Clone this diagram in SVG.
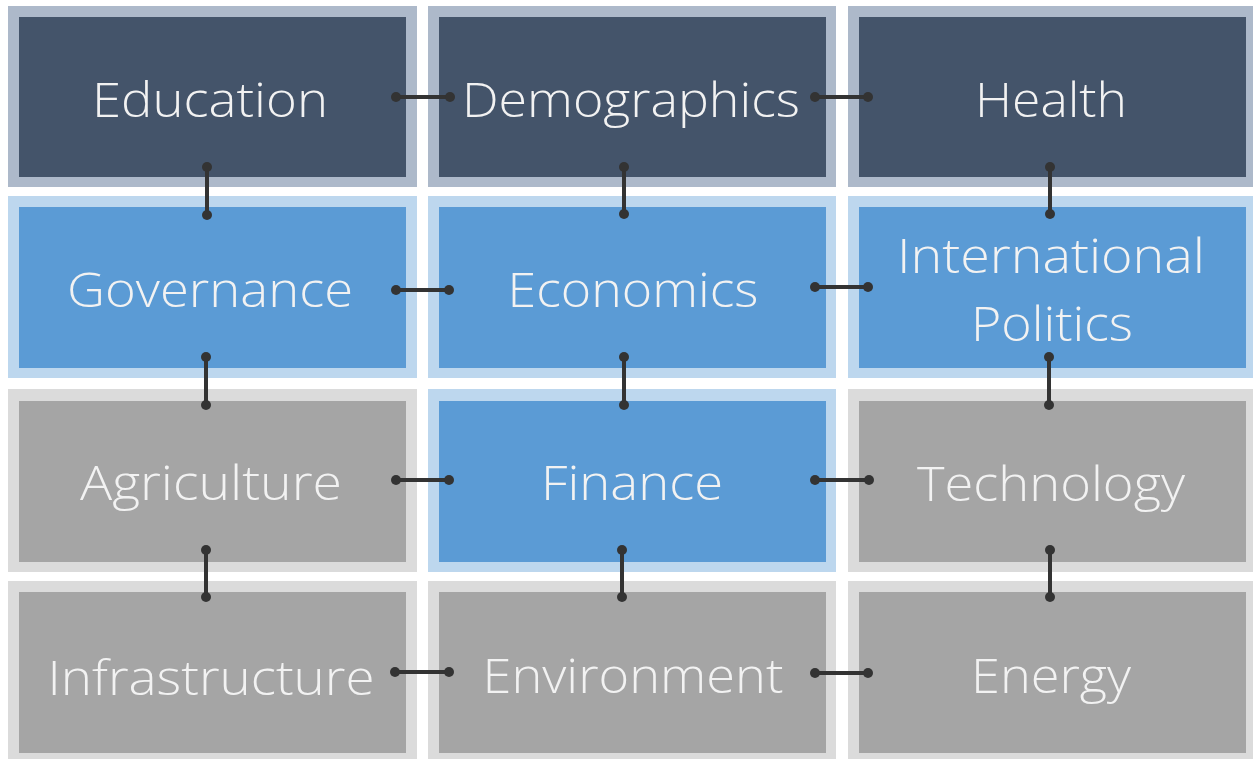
<svg xmlns="http://www.w3.org/2000/svg" width="1253" height="759" viewBox="0 0 1253 759">
<style>
.o1{fill:#ADB9CA}.i1{fill:#44546A}
.o2{fill:#BDD7EE}.i2{fill:#5B9BD5}
.o3{fill:#DBDBDB}.i3{fill:#A5A5A5}
text{font-family:"Open Sans","Lato","Liberation Sans",sans-serif;font-weight:300;font-size:48px;fill:#F2F2F2;text-anchor:middle}
.c line{stroke:#333;stroke-width:4}
.c circle{fill:#333}
</style>
<rect width="1253" height="759" fill="#fff"/>
<g id="education"><rect class="o1" x="8" y="6" width="409" height="181"/><rect class="i1" x="19" y="17" width="387" height="160"/><text x="210" y="117" textLength="236" lengthAdjust="spacingAndGlyphs">Education</text></g>
<g id="demographics"><rect class="o1" x="428" y="6" width="408" height="181"/><rect class="i1" x="439" y="17" width="387" height="160"/><text x="631" y="117" textLength="338" lengthAdjust="spacingAndGlyphs">Demographics</text></g>
<g id="health"><rect class="o1" x="848" y="6" width="405" height="181"/><rect class="i1" x="859" y="17" width="387" height="160"/><text x="1051" y="117" textLength="152" lengthAdjust="spacingAndGlyphs">Health</text></g>
<g id="governance"><rect class="o2" x="8" y="196" width="409" height="182"/><rect class="i2" x="19" y="207" width="387" height="161"/><text x="210" y="307" textLength="286" lengthAdjust="spacingAndGlyphs">Governance</text></g>
<g id="economics"><rect class="o2" x="428" y="196" width="408" height="182"/><rect class="i2" x="439" y="207" width="387" height="161"/><text x="633" y="307" textLength="251" lengthAdjust="spacingAndGlyphs">Economics</text></g>
<g id="international-politics"><rect class="o2" x="848" y="196" width="405" height="182"/><rect class="i2" x="859" y="207" width="387" height="161"/><text x="1051" y="273" textLength="308" lengthAdjust="spacingAndGlyphs">International</text><text x="1052" y="341" textLength="162" lengthAdjust="spacingAndGlyphs">Politics</text></g>
<g id="agriculture"><rect class="o3" x="8" y="389" width="409" height="183"/><rect class="i3" x="19" y="401" width="387" height="161"/><text x="211" y="500" textLength="262" lengthAdjust="spacingAndGlyphs">Agriculture</text></g>
<g id="finance"><rect class="o2" x="428" y="389" width="408" height="183"/><rect class="i2" x="439" y="401" width="387" height="161"/><text x="632" y="500" textLength="182" lengthAdjust="spacingAndGlyphs">Finance</text></g>
<g id="technology"><rect class="o3" x="848" y="389" width="405" height="183"/><rect class="i3" x="859" y="401" width="387" height="161"/><text x="1051" y="501" textLength="268" lengthAdjust="spacingAndGlyphs">Technology</text></g>
<g id="infrastructure"><rect class="o3" x="8" y="581" width="409" height="178"/><rect class="i3" x="19" y="592" width="387" height="161"/><text x="211" y="695" textLength="327" lengthAdjust="spacingAndGlyphs">Infrastructure</text></g>
<g id="environment"><rect class="o3" x="428" y="581" width="408" height="178"/><rect class="i3" x="439" y="592" width="387" height="161"/><text x="633" y="693" textLength="301" lengthAdjust="spacingAndGlyphs">Environment</text></g>
<g id="energy"><rect class="o3" x="848" y="581" width="405" height="178"/><rect class="i3" x="859" y="592" width="387" height="161"/><text x="1051" y="693" textLength="160" lengthAdjust="spacingAndGlyphs">Energy</text></g>
<g id="connectors" class="c">
<line x1="396" y1="97" x2="450" y2="97"/><circle cx="396" cy="97" r="5"/><circle cx="450" cy="97" r="5"/>
<line x1="815" y1="97" x2="868" y2="97"/><circle cx="815" cy="97" r="5"/><circle cx="868" cy="97" r="5"/>
<line x1="396" y1="290" x2="449" y2="290"/><circle cx="396" cy="290" r="5"/><circle cx="449" cy="290" r="5"/>
<line x1="815" y1="287" x2="868" y2="287"/><circle cx="815" cy="287" r="5"/><circle cx="868" cy="287" r="5"/>
<line x1="396" y1="480" x2="449" y2="480"/><circle cx="396" cy="480" r="5"/><circle cx="449" cy="480" r="5"/>
<line x1="815" y1="480" x2="869" y2="480"/><circle cx="815" cy="480" r="5"/><circle cx="869" cy="480" r="5"/>
<line x1="395" y1="672" x2="449" y2="672"/><circle cx="395" cy="672" r="5"/><circle cx="449" cy="672" r="5"/>
<line x1="815" y1="673" x2="868" y2="673"/><circle cx="815" cy="673" r="5"/><circle cx="868" cy="673" r="5"/>
<line x1="207" y1="167" x2="207" y2="215"/><circle cx="207" cy="167" r="5"/><circle cx="207" cy="215" r="5"/>
<line x1="624" y1="167" x2="624" y2="214"/><circle cx="624" cy="167" r="5"/><circle cx="624" cy="214" r="5"/>
<line x1="1050" y1="167" x2="1050" y2="214"/><circle cx="1050" cy="167" r="5"/><circle cx="1050" cy="214" r="5"/>
<line x1="206" y1="357" x2="206" y2="405"/><circle cx="206" cy="357" r="5"/><circle cx="206" cy="405" r="5"/>
<line x1="624" y1="357" x2="624" y2="405"/><circle cx="624" cy="357" r="5"/><circle cx="624" cy="405" r="5"/>
<line x1="1049" y1="357" x2="1049" y2="405"/><circle cx="1049" cy="357" r="5"/><circle cx="1049" cy="405" r="5"/>
<line x1="206" y1="550" x2="206" y2="597"/><circle cx="206" cy="550" r="5"/><circle cx="206" cy="597" r="5"/>
<line x1="622" y1="550" x2="622" y2="597"/><circle cx="622" cy="550" r="5"/><circle cx="622" cy="597" r="5"/>
<line x1="1050" y1="550" x2="1050" y2="597"/><circle cx="1050" cy="550" r="5"/><circle cx="1050" cy="597" r="5"/>
</g>
</svg>
